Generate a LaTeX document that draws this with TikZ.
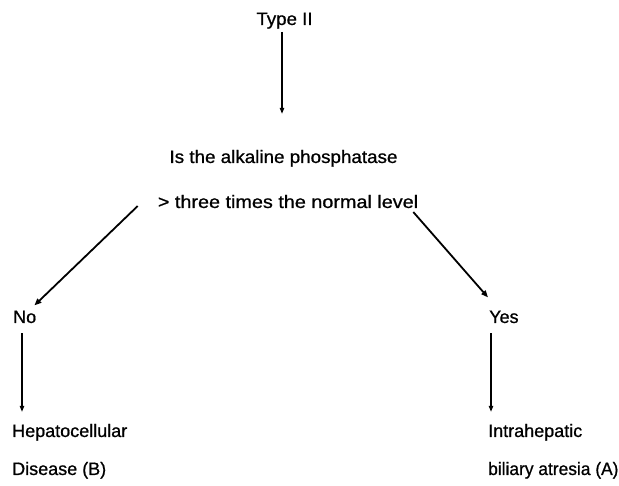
\documentclass[tikz,border=0pt]{standalone}
\usepackage{fontspec}
\setmainfont{Liberation Sans}
\newfontfamily\lblfont{Liberation Sans}[FakeBold=0.8]
\usetikzlibrary{arrows.meta,calc}
\newcommand{\hs}[2]{\scalebox{#1}[1]{#2}}
\begin{document}
\begin{tikzpicture}[x=1pt,y=-1pt,
  lbl/.style={inner sep=0pt,font=\lblfont\fontsize{18}{22}\selectfont},
  vline/.style={line width=1.2pt,-{Triangle[length=6pt,width=4.5pt]}},
  dline/.style={line width=1.8pt,-{Triangle[length=7pt,width=5.5pt]}}]
\useasboundingbox[fill=white] (0,0) rectangle (619,486);
\node[lbl,anchor=base] (type) at (284.5,25) {\hs{1.04}{Type II}};
\node[lbl,anchor=base] (q1) at (283.5,163) {\hs{1.045}{Is the alkaline phosphatase}};
\node[lbl,anchor=base] (q2) at (288,208) {\hs{1.1}{> three times the normal level}};
\node[lbl,anchor=base west] (no) at (13,323) {No};
\node[lbl,anchor=base west] (yes) at (489,323) {Yes};
\node[lbl,anchor=base west] (hep) at (12,437) {Hepatocellular};
\node[lbl,anchor=base west] (dis) at (12,475) {Disease (B)};
\node[lbl,anchor=base west] (intra) at (488,437) {Intrahepatic};
\node[lbl,anchor=base west] (bil) at (488,475) {\hs{0.965}{biliary atresia (A)}};
\draw[vline,shorten <=3pt,shorten >=36pt] ([xshift=-2.5pt]type.south) -- ([xshift=-1.5pt]q1.north);
\draw[dline] ($(q2.west)+(-20,4.5)$) -- ($(no.north east)+(-2,-5)$);
\draw[dline] ($(q2.east)+(-5,10.5)$) -- ($(yes.north west)+(-1,-13)$);
\draw[vline] ($(no.south west)+(9,10)$) -- ($(hep.north west)+(10,-12)$);
\draw[vline] ($(yes.south west)+(2,10)$) -- ($(intra.north west)+(3,-12)$);
\end{tikzpicture}
\end{document}
